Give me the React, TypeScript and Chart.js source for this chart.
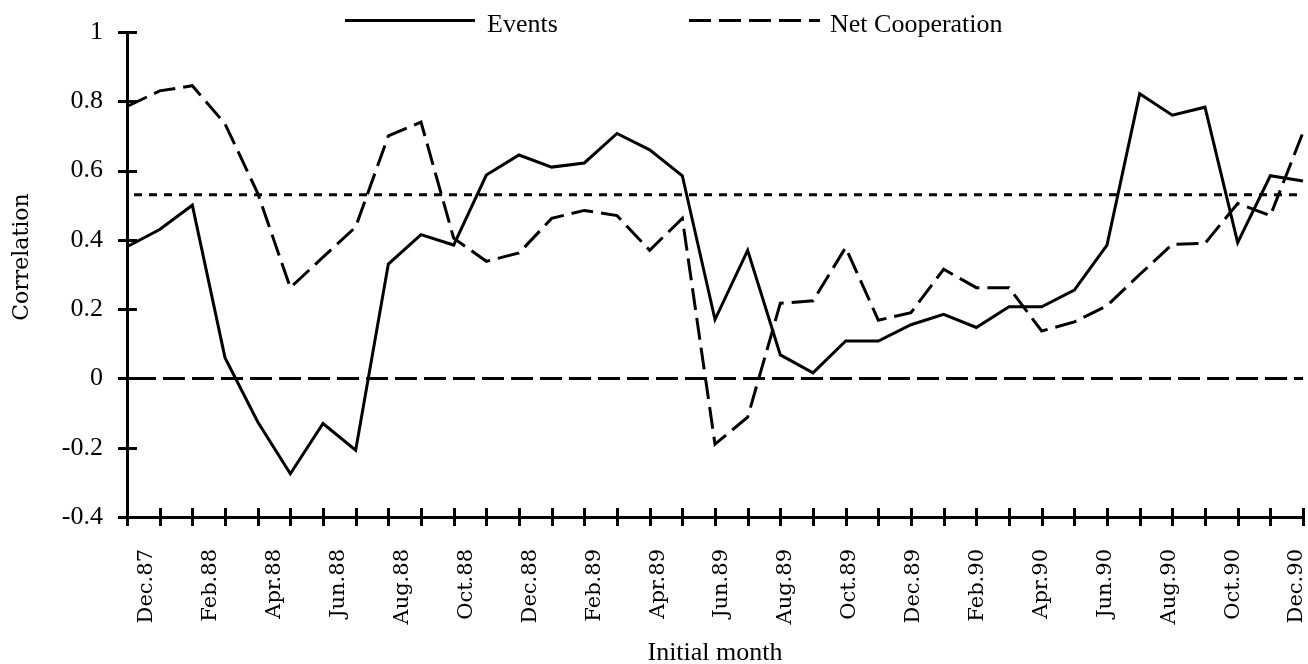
import React, { useEffect, useRef } from 'react';
import { Chart, registerables } from 'chart.js';

Chart.register(...registerables);

const months = [
  'Dec.87',
  'Jan.88', 'Feb.88', 'Mar.88', 'Apr.88', 'May.88', 'Jun.88', 'Jul.88', 'Aug.88', 'Sep.88', 'Oct.88', 'Nov.88', 'Dec.88',
  'Jan.89', 'Feb.89', 'Mar.89', 'Apr.89', 'May.89', 'Jun.89', 'Jul.89', 'Aug.89', 'Sep.89', 'Oct.89', 'Nov.89', 'Dec.89',
  'Jan.90', 'Feb.90', 'Mar.90', 'Apr.90', 'May.90', 'Jun.90', 'Jul.90', 'Aug.90', 'Sep.90', 'Oct.90', 'Nov.90', 'Dec.90',
];

const tickLabels = [
  'Dec.87', 'Feb.88', 'Apr.88', 'Jun.88', 'Aug.88', 'Oct.88', 'Dec.88', 'Feb.89', 'Apr.89', 'Jun.89',
  'Aug.89', 'Oct.89', 'Dec.89', 'Feb.90', 'Apr.90', 'Jun.90', 'Aug.90', 'Oct.90', 'Dec.90',
];

const events = [
  0.38, 0.43, 0.50, 0.06, -0.125, -0.275, -0.13, -0.207, 0.33, 0.415, 0.385, 0.587, 0.645,
  0.61, 0.622, 0.707, 0.66, 0.585, 0.17, 0.37, 0.068, 0.016, 0.108, 0.108, 0.155,
  0.185, 0.147, 0.207, 0.207, 0.255, 0.385, 0.822, 0.76, 0.783, 0.392, 0.585, 0.57,
];

const netCooperation = [
  0.785, 0.83, 0.845, 0.735, 0.535, 0.262, 0.35, 0.437, 0.70, 0.74, 0.405, 0.338, 0.362,
  0.462, 0.485, 0.47, 0.37, 0.462, -0.19, -0.112, 0.217, 0.224, 0.378, 0.168, 0.19,
  0.315, 0.262, 0.262, 0.137, 0.163, 0.21, 0.30, 0.387, 0.39, 0.505, 0.47, 0.71,
];

const referenceLevel = 0.53;
const zeroLevel = 0;

const seriesNames = ['Events', 'Net Cooperation'];

const SERIF = "'Liberation Serif', 'Times New Roman', serif";
const DSERIF = "'DejaVu Serif', serif";

const decorPlugin = {
  id: 'decor',
  afterDraw(chart: any) {
    const { ctx, chartArea } = chart;
    const x = chart.scales.x;
    const y = chart.scales.y;
    ctx.save();
    ctx.strokeStyle = '#000';
    ctx.lineWidth = 3;
    ctx.lineCap = 'butt';
    ctx.setLineDash([]);
    ctx.beginPath();
    y.ticks.forEach((t: any) => {
      const py = Math.round(y.getPixelForValue(t.value)) + 0.5;
      ctx.moveTo(chartArea.left - 9, py);
      ctx.lineTo(chartArea.left + 10, py);
    });
    months.forEach((_m, i) => {
      const px = Math.round(x.getPixelForValue(i)) + 0.5;
      ctx.moveTo(px, chartArea.bottom - 9);
      ctx.lineTo(px, chartArea.bottom + 9);
    });
    ctx.stroke();

    // legend
    const ds = chart.data.datasets;
    const items = [
      { ds: ds[0], x0: 345, x1: 475, tx: 487 },
      { ds: ds[1], x0: 689, x1: 820, tx: 830 },
    ];
    ctx.font = `26px ${SERIF}`;
    ctx.fillStyle = '#000';
    ctx.textBaseline = 'alphabetic';
    ctx.textAlign = 'left';
    items.forEach((it) => {
      ctx.beginPath();
      ctx.lineWidth = it.ds.borderWidth;
      ctx.strokeStyle = it.ds.borderColor;
      ctx.setLineDash(it.ds.borderDash || []);
      ctx.moveTo(it.x0, 20.5);
      ctx.lineTo(it.x1, 20.5);
      ctx.stroke();
      ctx.fillText(it.ds.label, it.tx, 32);
    });
    ctx.restore();
  },
};

export default function App() {
  const canvasRef = useRef<HTMLCanvasElement | null>(null);

  useEffect(() => {
    if (!canvasRef.current) return;
    const chart = new Chart(canvasRef.current, {
      type: 'line',
      data: {
        labels: months,
        datasets: [
          {
            label: seriesNames[0],
            data: events,
            borderColor: '#000',
            borderWidth: 3,
            pointRadius: 0,
            tension: 0,
            fill: false,
          },
          {
            label: seriesNames[1],
            data: netCooperation,
            borderColor: '#000',
            borderWidth: 3,
            borderDash: [22, 8],
            pointRadius: 0,
            tension: 0,
            fill: false,
          },
          {
            label: 'Reference',
            data: [
              { x: months[0], y: referenceLevel },
              { x: months[months.length - 1], y: referenceLevel },
            ],
            borderColor: '#000',
            borderWidth: 3,
            borderDash: [8, 7],
            borderDashOffset: 8,
            pointRadius: 0,
            fill: false,
          },
          {
            label: 'Zero',
            data: [
              { x: months[0], y: zeroLevel },
              { x: months[months.length - 1], y: zeroLevel },
            ],
            borderColor: '#000',
            borderWidth: 3,
            borderDash: [22, 7],
            borderDashOffset: 22,
            pointRadius: 0,
            fill: false,
          },
        ] as any,
      },
      options: {
        animation: false,
        responsive: true,
        maintainAspectRatio: false,
        events: [],
        layout: { padding: { top: 32, right: 5, bottom: 0, left: 0 } },
        plugins: {
          legend: { display: false },
          tooltip: { enabled: false },
        },
        scales: {
          x: {
            type: 'category',
            position: 'bottom',
            weight: 0,
            ticks: { display: false },
            grid: { display: true, drawOnChartArea: false, drawTicks: false },
            border: { display: true, width: 3, color: '#000' },
          },
          xl: {
            type: 'linear',
            position: 'bottom',
            weight: 1,
            min: -0.313,
            max: 18.094,
            afterBuildTicks: (scale: any) => {
              scale.ticks = tickLabels.map((_l, i) => ({ value: i }));
            },
            ticks: {
              autoSkip: false,
              minRotation: 90,
              maxRotation: 90,
              padding: 24,
              color: '#000',
              font: { family: DSERIF, size: 21 },
              callback: (v: any) => tickLabels[Math.round(Number(v))] ?? '',
            },
            grid: { display: false },
            border: { display: false },
            title: {
              display: true,
              text: 'Initial month',
              color: '#000',
              font: { family: SERIF, size: 26 },
              padding: { top: 0, bottom: -5 },
            },
            afterFit: (s: any) => {
              s.height = 147;
              s.paddingLeft = 0;
              s.paddingRight = 0;
            },
          },
          y: {
            type: 'linear',
            min: -0.4,
            max: 1,
            ticks: {
              stepSize: 0.2,
              padding: 24,
              color: '#000',
              font: { family: SERIF, size: 26 },
              callback: (v: any) => String(Math.round(Number(v) * 10) / 10 || 0),
            },
            grid: { display: true, drawOnChartArea: false, drawTicks: false },
            border: { display: true, width: 3, color: '#000' },
            title: {
              display: true,
              text: '     Correlation',
              color: '#000',
              font: { family: DSERIF, size: 22 },
              padding: { top: 9, bottom: 0 },
            },
            afterFit: (s: any) => {
              s.width = 127;
              s.paddingTop = 0;
              s.paddingBottom = 0;
            },
          },
        } as any,
      },
      plugins: [decorPlugin],
    });
    return () => chart.destroy();
  }, []);

  return (
    <div style={{ position: 'absolute', left: 0, top: 0, width: 1308, height: 664 }}>
      <canvas ref={canvasRef} />
    </div>
  );
}
